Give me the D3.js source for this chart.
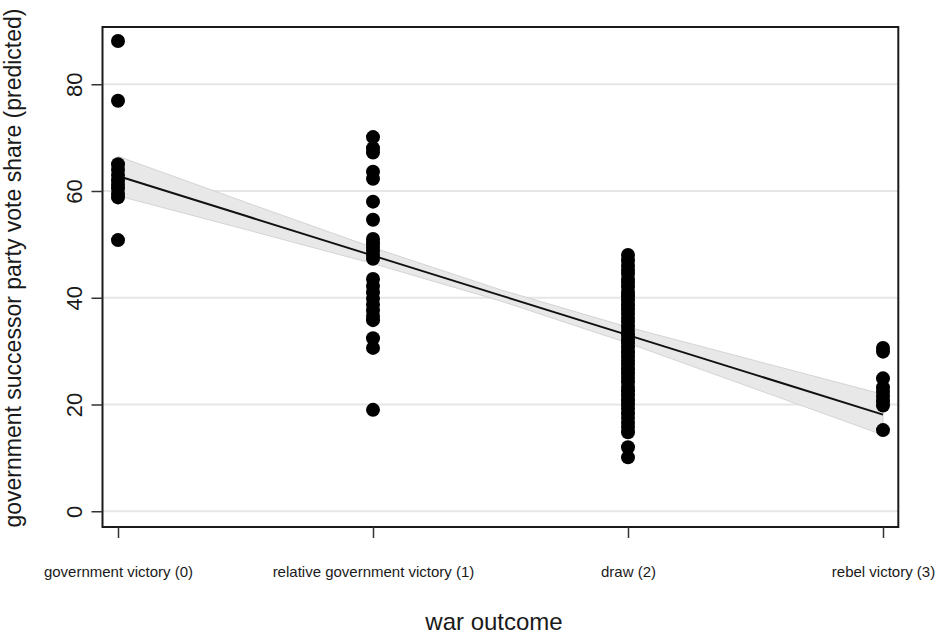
<!DOCTYPE html>
<html>
<head>
<meta charset="utf-8">
<script src="https://cdn.jsdelivr.net/npm/d3@7"></script>
<style>
  body { margin: 0; background: #fff; }
  svg text { font-family: "Liberation Sans", Arial, Helvetica, sans-serif; fill: #1a1a1a; }
</style>
</head>
<body>
<svg id="chart" width="935" height="637"></svg>
<script>
// war outcome categories (x = 0..3)
const outcomeLabels = ["government victory (0)", "relative government victory (1)", "draw (2)", "rebel victory (3)"];
const yTicks = [0, 20, 40, 60, 80];

// predicted vote share per outcome
const govVictory = [88.1, 76.9, 65.0, 64.0, 63.0, 62.0, 61.2, 60.5, 59.5, 58.8, 50.8];
const relGovVictory = [70.1, 68.0, 67.2, 63.6, 62.3, 58.0, 54.6, 51.0, 50.2, 49.5, 48.8, 48.0, 47.3,
  43.5, 42.2, 41.0, 39.8, 38.7, 37.6, 36.6, 35.8, 32.4, 30.6, 19.0];
const draw = [48.0, 47.0, 46.0, 45.2, 44.5, 43.5, 42.8, 42.0, 41.0, 40.3, 39.5, 38.6, 37.8, 37.0,
  36.2, 35.5, 34.6, 33.8, 33.0, 32.2, 31.5, 30.7, 29.8, 29.0, 28.2, 27.5, 26.6, 25.8, 25.0, 24.2,
  23.3, 22.5, 21.7, 20.8, 20.0, 19.2, 18.3, 17.5, 16.6, 15.8, 14.8, 12.0, 10.1];
const rebelVictory = [30.6, 29.9, 24.9, 23.2, 22.4, 21.5, 20.6, 19.8, 15.2];

// linear fit and its confidence band
const fitX = [0, 0.5, 1, 1.5, 2, 2.5, 3];
const fitY = [62.8, 55.35, 47.9, 40.45, 33.0, 25.55, 18.1];
const bandUpper = [66.5, 57.9, 49.4, 41.5, 34.5, 28.2, 21.9];
const bandLower = [59.1, 52.8, 46.4, 39.4, 31.5, 22.9, 14.3];

const svg = d3.select("#chart");
const frame = {left: 102.5, right: 898.3, top: 27, bottom: 527};

const x = d3.scaleLinear().domain([0, 3]).range([118, 883]);
const y = d3.scaleLinear().domain([0, 80]).range([511.25, 84.25]);

// gridlines
svg.append("g")
  .selectAll("line")
  .data(yTicks)
  .enter().append("line")
  .attr("x1", frame.left)
  .attr("x2", frame.right)
  .attr("y1", d => y(d))
  .attr("y2", d => y(d))
  .attr("stroke", "#e6e6e6")
  .attr("stroke-width", 2);

// confidence band
const bandData = fitX.map((v, i) => ({x: v, lo: bandLower[i], hi: bandUpper[i]}));
svg.append("path")
  .datum(bandData)
  .attr("d", d3.area().x(d => x(d.x)).y0(d => y(d.lo)).y1(d => y(d.hi)))
  .attr("fill", "#e8e8e8")
  .attr("stroke", "#d4d4d4")
  .attr("stroke-width", 1);

// fit line
svg.append("path")
  .datum(fitX.map((v, i) => [v, fitY[i]]))
  .attr("d", d3.line().x(d => x(d[0])).y(d => y(d[1])))
  .attr("fill", "none")
  .attr("stroke", "#111")
  .attr("stroke-width", 2);

// points
const groups = [govVictory, relGovVictory, draw, rebelVictory];
const points = groups.flatMap((vals, i) => vals.map(v => ({x: i, y: v})));
svg.append("g")
  .selectAll("circle")
  .data(points)
  .enter().append("circle")
  .attr("cx", d => x(d.x))
  .attr("cy", d => y(d.y))
  .attr("r", 7)
  .attr("fill", "#000");

// frame
svg.append("rect")
  .attr("x", frame.left)
  .attr("y", frame.top)
  .attr("width", frame.right - frame.left)
  .attr("height", frame.bottom - frame.top)
  .attr("fill", "none")
  .attr("stroke", "#1a1a1a")
  .attr("stroke-width", 2);

// y axis
const yAxis = svg.append("g")
  .attr("transform", `translate(${frame.left},0)`)
  .call(d3.axisLeft(y).tickValues(yTicks).tickSize(11));
yAxis.select(".domain").remove();
yAxis.selectAll(".tick line").attr("stroke", "#333").attr("stroke-width", 1.5);
yAxis.selectAll(".tick text")
  .attr("x", null)
  .attr("dy", null)
  .attr("transform", "translate(-20.5,0) rotate(-90)")
  .attr("text-anchor", "middle")
  .attr("font-size", 22)
  .attr("fill", "#1a1a1a");

// x axis
const xAxis = svg.append("g")
  .attr("transform", `translate(0,${frame.bottom})`)
  .call(d3.axisBottom(x).tickValues([0, 1, 2, 3]).tickSize(11).tickFormat(d => outcomeLabels[d]));
xAxis.select(".domain").remove();
xAxis.selectAll(".tick line").attr("stroke", "#333").attr("stroke-width", 1.5);
xAxis.selectAll(".tick text")
  .attr("y", 50)
  .attr("dy", null)
  .attr("font-size", 15)
  .attr("fill", "#1a1a1a");

// axis titles
svg.append("text")
  .attr("transform", "translate(21,268) rotate(-90)")
  .attr("text-anchor", "middle")
  .attr("font-size", 23)
  .text("government successor party vote share (predicted)");

svg.append("text")
  .attr("x", 494)
  .attr("y", 630)
  .attr("text-anchor", "middle")
  .attr("font-size", 24)
  .text("war outcome");
</script>
</body>
</html>
